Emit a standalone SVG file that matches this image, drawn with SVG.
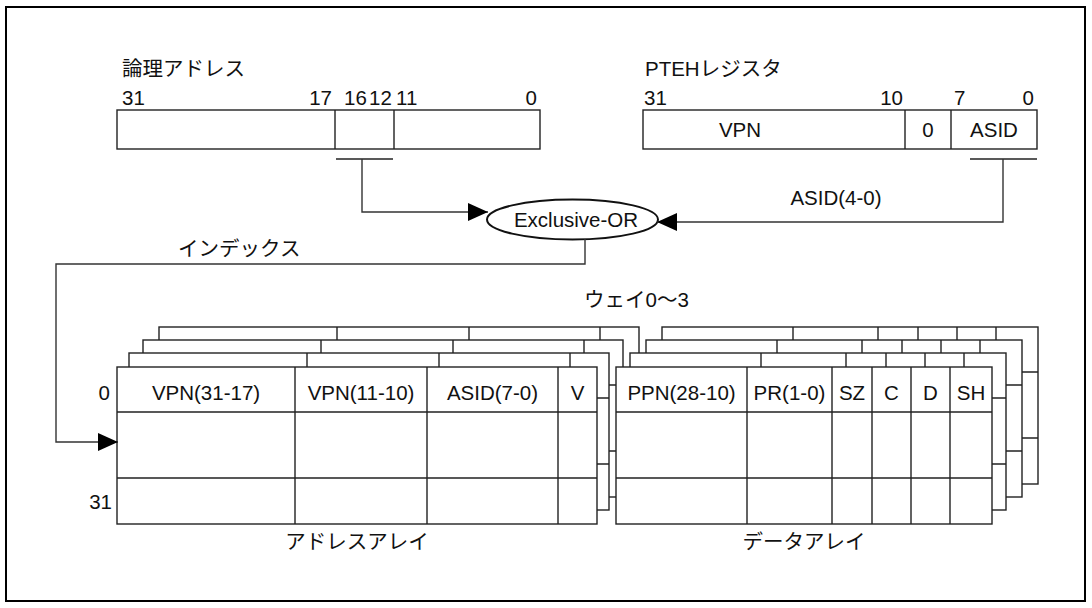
<svg xmlns="http://www.w3.org/2000/svg" xmlns:xlink="http://www.w3.org/1999/xlink" width="1092" height="608" viewBox="0 0 1092 608">
<style>
text{font-family:"Liberation Sans","Noto Sans CJK JP",sans-serif;font-size:20.5px;fill:#111}
.c{text-anchor:middle}
.e{text-anchor:end}
.box{fill:#fff;stroke:#222;stroke-width:1.4}
.ln{fill:none;stroke:#222;stroke-width:1.4}
.cn{fill:none;stroke:#333;stroke-width:1.4}
</style>
<defs>
<marker id="ah" markerWidth="20" markerHeight="18" refX="20" refY="9" orient="auto" markerUnits="userSpaceOnUse">
<path d="M0,0 L20,9 L0,18 Z" fill="#000"/>
</marker>
<g id="addrTbl">
<rect class="box" x="117" y="367" width="480" height="157"/>
<path class="ln" d="M295,367V524M427,367V524M558,367V524M117,412H597M117,478H597"/>
</g>
<g id="dataTbl">
<rect class="box" x="616" y="367" width="376" height="157"/>
<path class="ln" d="M747,367V524M832,367V524M872,367V524M911,367V524M950,367V524M616,412H992M616,478H992"/>
</g>
</defs>
<rect x="0" y="0" width="1092" height="608" fill="#fff"/>
<rect x="6" y="7" width="1079" height="594" fill="none" stroke="#000" stroke-width="2"/>

<g id="logical-address">
<text x="122" y="76">論理アドレス</text>
<text x="122" y="105">31</text>
<text class="e" x="332" y="105">17</text>
<text x="344" y="105">16</text>
<text x="369" y="105">12</text>
<text x="396" y="105">11</text>
<text class="e" x="537" y="105">0</text>
<rect class="box" x="117" y="110" width="423" height="39"/>
<path class="ln" d="M335,110V149M394,110V149"/>
<path class="ln" d="M336,159H393"/>
</g>

<g id="pteh-register">
<text x="645" y="76">PTEHレジスタ</text>
<text x="644" y="105">31</text>
<text class="e" x="903" y="105">10</text>
<text x="954" y="105">7</text>
<text class="e" x="1034" y="105">0</text>
<rect class="box" x="643" y="110" width="394" height="39"/>
<path class="ln" d="M905,110V149M951,110V149"/>
<text class="c" x="740" y="137">VPN</text>
<text class="c" x="928" y="137">0</text>
<text class="c" x="994" y="137">ASID</text>
<path class="ln" d="M970,159H1037"/>
</g>

<g id="xor">
<ellipse cx="572.5" cy="219.5" rx="85.5" ry="20" fill="#fff" stroke="#111" stroke-width="2"/>
<text class="c" x="576" y="226.5">Exclusive-OR</text>
</g>

<g id="address-array">
<use xlink:href="#addrTbl" transform="translate(42,-40)"/>
<use xlink:href="#addrTbl" transform="translate(26,-27)"/>
<use xlink:href="#addrTbl" transform="translate(12,-14)"/>
<use xlink:href="#addrTbl"/>
<text class="c" x="206" y="400">VPN(31-17)</text>
<text class="c" x="361" y="400">VPN(11-10)</text>
<text class="c" x="492.5" y="400">ASID(7-0)</text>
<text class="c" x="577.5" y="400">V</text>
<text class="e" x="110" y="400">0</text>
<text class="e" x="112" y="509">31</text>
<text class="c" x="357" y="549">アドレスアレイ</text>
</g>

<g id="data-array">
<use xlink:href="#dataTbl" transform="translate(46,-40)"/>
<use xlink:href="#dataTbl" transform="translate(30,-27)"/>
<use xlink:href="#dataTbl" transform="translate(14,-14)"/>
<use xlink:href="#dataTbl"/>
<text class="c" x="681.5" y="400">PPN(28-10)</text>
<text class="c" x="789.5" y="400">PR(1-0)</text>
<text class="c" x="852" y="400">SZ</text>
<text class="c" x="891.5" y="400">C</text>
<text class="c" x="930.5" y="400">D</text>
<text class="c" x="971" y="400">SH</text>
<text class="c" x="804" y="549">データアレイ</text>
</g>

<text x="584" y="307">ウェイ0〜3</text>
<text x="178" y="256">インデックス</text>
<text class="c" x="836" y="205">ASID(4-0)</text>

<g id="connectors">
<path class="cn" d="M362,159V212H488" marker-end="url(#ah)"/>
<path class="cn" d="M1003,159V222H657" marker-end="url(#ah)"/>
<path class="cn" d="M585,239V264H56V442H118" marker-end="url(#ah)"/>
</g>
</svg>
